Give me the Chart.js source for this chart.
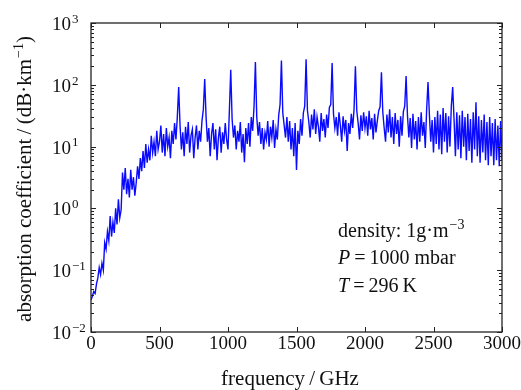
<!DOCTYPE html>
<html>
<head>
<meta charset="utf-8">
<script src="https://cdn.jsdelivr.net/npm/chart.js@4.4.1/dist/chart.umd.min.js"></script>
<style>
  html, body { margin: 0; padding: 0; background: #fff; }
  #wrap { width: 521px; height: 390px; }
</style>
</head>
<body>
<div id="wrap"><canvas id="absChart" width="521" height="390"></canvas></div>
<script>
const freqStep = 10;
const abs0to490 = [
  0.033, 0.038, 0.045, 0.042, 0.06, 0.075, 0.11, 0.085, 0.13, 0.1,
  0.28, 0.22, 0.42, 0.3, 0.75, 0.35, 0.6, 0.4, 1.0, 0.55,
  1.4, 0.7, 0.95, 3.8, 2.0, 4.5, 1.7, 3.0, 1.5, 4.2,
  2.0, 3.2, 1.6, 2.6, 4.8, 3.0, 6.5, 4.0, 8.5, 4.5,
  11, 5.5, 9, 6, 15, 8, 12, 7, 18, 9
];
const abs500to990 = [
  12, 22, 8, 16, 7, 20, 10, 14, 6.5, 18,
  11, 24, 13, 30, 92, 22, 9, 17, 7, 21,
  11, 25, 8, 15, 19, 6.5, 14, 22, 9, 18,
  12, 26, 40, 124, 30, 12, 20, 7, 16, 24,
  9, 19, 6, 14, 21, 8, 17, 11, 24, 13
];
const abs1000to1490 = [
  9, 38, 175, 28, 14, 22, 9, 18, 12, 25,
  8, 16, 5.6, 20, 11, 24, 10, 30, 18, 44,
  234, 30, 15, 25, 11, 20, 9, 17, 13, 26,
  10, 21, 14, 27, 9.5, 19, 13, 32, 48, 248,
  35, 22, 14, 30, 12, 26, 9, 20, 7, 24
];
const abs1500to1990 = [
  4.2, 18, 11, 28, 15, 35, 45, 258, 38, 25,
  14, 33, 19, 40, 16, 30, 21, 12, 35, 18,
  28, 14, 33, 20, 43, 48, 225, 34, 20, 30,
  15, 36, 22, 12, 31, 18, 27, 8.5, 24, 16,
  34, 20, 40, 200, 38, 24, 13, 32, 18, 36
];
const abs2000to2490 = [
  20, 31, 15, 38, 19, 29, 13, 34, 17, 26,
  38, 44, 160, 36, 20, 12, 33, 17, 40, 14,
  30, 11, 35, 16, 27, 10, 31, 15, 37, 45,
  139, 32, 14, 29, 9.5, 34, 13, 26, 9, 30,
  12, 36, 15, 25, 9.5, 40, 111, 33, 12, 27
];
const abs2500to3000 = [
  8, 30, 11, 38, 9, 33, 7.5, 42, 12, 35,
  8, 31, 10, 45, 92, 28, 7, 36, 9, 32,
  6.5, 38, 10, 30, 6, 34, 8.5, 28, 5.5, 36,
  9, 52, 7, 31, 5.5, 27, 8, 33, 6, 25,
  5, 30, 7, 24, 5, 28, 6, 22, 4.8, 26,
  6
];
const xTicks = [0, 500, 1000, 1500, 2000, 2500, 3000];
const yDecades = [-2, -1, 0, 1, 2, 3];

const absValues = [].concat(abs0to490, abs500to990, abs1000to1490,
  abs1500to1990, abs2000to2490, abs2500to3000);
const points = absValues.map((v, i) => ({ x: i * freqStep, y: v }));

const SERIF = '"Liberation Serif", "Times New Roman", serif';
const INK = '#222';

// text with a superscript tail, drawn left to right from x
function supText(ctx, x, y, base, sup, size) {
  ctx.font = size + 'px ' + SERIF;
  ctx.fillText(base, x, y);
  const w = ctx.measureText(base).width;
  ctx.font = Math.round(size * 0.68) + 'px ' + SERIF;
  ctx.fillText(sup, x + w + 1, y - size * 0.38);
  return w + 1 + ctx.measureText(sup).width;
}

const frame = {
  id: 'frame',
  afterDatasetsDraw(chart) {
    const { ctx, chartArea: a, scales } = chart;
    const xs = scales.x, ys = scales.y;
    ctx.save();
    ctx.strokeStyle = INK;
    ctx.fillStyle = '#111';

    // box
    ctx.lineWidth = 1.3;
    ctx.strokeRect(a.left, a.top, a.right - a.left, a.bottom - a.top);

    // inward ticks
    ctx.lineWidth = 1;
    ctx.beginPath();
    xTicks.forEach(t => {
      const px = Math.round(xs.getPixelForValue(t)) + 0.5;
      ctx.moveTo(px, a.bottom); ctx.lineTo(px, a.bottom - 5);
      ctx.moveTo(px, a.top); ctx.lineTo(px, a.top + 5);
    });
    yDecades.forEach(d => {
      for (let m = 1; m <= 9; m++) {
        if (d === 3 && m > 1) break;
        const py = Math.round(ys.getPixelForValue(m * Math.pow(10, d))) + 0.5;
        const len = m === 1 ? 5 : 3;
        ctx.moveTo(a.left, py); ctx.lineTo(a.left + len, py);
        ctx.moveTo(a.right, py); ctx.lineTo(a.right - len, py);
      }
    });
    ctx.stroke();

    // x tick labels
    ctx.textAlign = 'center';
    ctx.textBaseline = 'alphabetic';
    ctx.font = '19px ' + SERIF;
    xTicks.forEach(t => ctx.fillText(String(t), xs.getPixelForValue(t), a.bottom + 17));

    // y tick labels 10^n
    ctx.textAlign = 'left';
    yDecades.forEach(d => {
      const py = ys.getPixelForValue(Math.pow(10, d));
      supText(ctx, 52, py + 7, '10', String(d).replace('-', '\u2212'), 19);
    });

    // axis titles
    ctx.textAlign = 'center';
    ctx.font = '21px ' + SERIF;
    ctx.fillText('frequency\u2009/\u2009GHz', 290, 385);

    ctx.save();
    ctx.translate(31, 179);
    ctx.rotate(-Math.PI / 2);
    ctx.textAlign = 'left';
    const t1 = 'absorption coefficient\u2009/\u2009(dB\u00b7km';
    ctx.font = '21px ' + SERIF;
    const w1 = ctx.measureText(t1).width;
    ctx.font = '14px ' + SERIF;
    const w2 = ctx.measureText('\u22121').width;
    ctx.font = '21px ' + SERIF;
    const total = w1 + 1 + w2 + ctx.measureText(')').width;
    const x0 = -total / 2;
    const wSup = supText(ctx, x0, 0, t1, '\u22121', 21);
    ctx.font = '21px ' + SERIF;
    ctx.fillText(')', x0 + wSup, 0);
    ctx.restore();

    // annotation
    ctx.textAlign = 'left';
    supText(ctx, 338, 237, 'density: 1g\u00b7m', '\u22123', 20);
    ctx.font = 'italic 20px ' + SERIF;
    ctx.fillText('P', 338, 264);
    let wp = ctx.measureText('P').width;
    ctx.font = '20px ' + SERIF;
    ctx.fillText('\u2009=\u20091000 mbar', 338 + wp, 264);
    ctx.font = 'italic 20px ' + SERIF;
    ctx.fillText('T', 338, 292);
    wp = ctx.measureText('T').width;
    ctx.font = '20px ' + SERIF;
    ctx.fillText('\u2009=\u2009296\u2009K', 338 + wp, 292);

    ctx.restore();
  }
};

new Chart(document.getElementById('absChart').getContext('2d'), {
  type: 'line',
  data: {
    datasets: [{
      data: points,
      borderColor: '#0a0aff',
      borderWidth: 1.4,
      pointRadius: 0,
      tension: 0,
      fill: false
    }]
  },
  options: {
    responsive: false,
    animation: false,
    devicePixelRatio: 1,
    layout: { padding: { left: 91, right: 19, top: 23, bottom: 58 } },
    plugins: { legend: { display: false }, tooltip: { enabled: false } },
    scales: {
      x: { type: 'linear', display: false, min: 0, max: 3000 },
      y: { type: 'logarithmic', display: false, min: 0.01, max: 1000 }
    }
  },
  plugins: [frame]
});
</script>
</body>
</html>
